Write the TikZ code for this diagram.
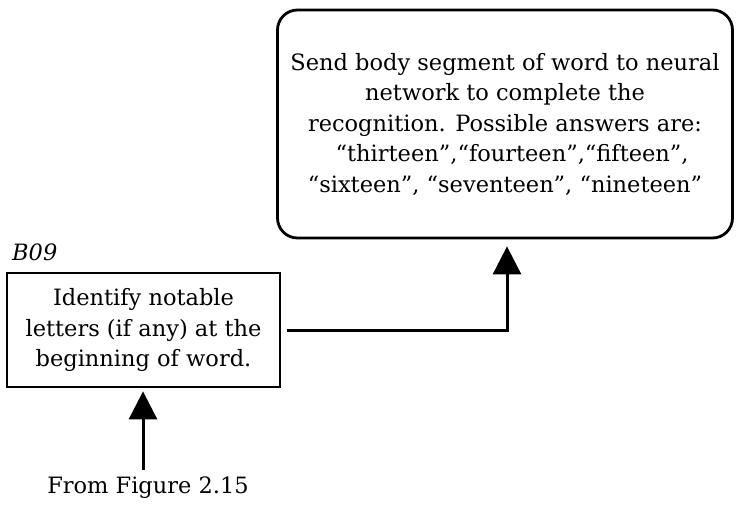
\documentclass[tikz,border=0pt]{standalone}
\usepackage{fontspec}
\setmainfont{DejaVu Serif}
\usetikzlibrary{arrows.meta}
\begin{document}
\begin{tikzpicture}[x=1pt,y=-1pt,
  boxstyle/.style={draw,line width=2.8pt,align=center,inner sep=0pt,font=\fontsize{22.5}{30.5}\selectfont},
  conn/.style={line width=3pt,-{Triangle[length=28pt,width=28pt]}}]
\useasboundingbox (0,0) rectangle (736,508);
\node[boxstyle,rounded corners=20pt,minimum width=455pt,minimum height=228pt] (big) at (505,124)
  {Send body segment of word to neural\\network to complete the\\recognition. Possible answers are:\\\ \ ``thirteen'',``fourteen'',``fifteen'',\\``sixteen'', ``seventeen'', ``nineteen''};
\node[boxstyle,minimum width=273pt,minimum height=114pt] (small) at (143.5,330)
  {Identify notable\\letters (if any) at the\\beginning of word.};
\node[font=\fontsize{22.5}{30}\selectfont\itshape,anchor=west,inner sep=0pt] (lbl) at (12,252) {B09};
\node[font=\fontsize{22.5}{30}\selectfont,inner sep=0pt] (from) at (148,488) {From Figure 2.15};
\coordinate (fromtop) at (143,470);
\draw[conn,shorten <=6pt,shorten >=7pt] (small.east) -| ([xshift=2pt]big.south);
\draw[conn,shorten >=3pt] (fromtop) -- (small.south -| fromtop);
\end{tikzpicture}
\end{document}
